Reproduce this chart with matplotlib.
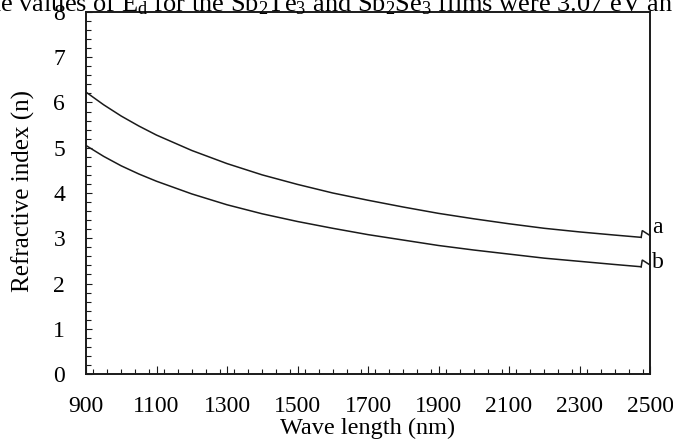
import matplotlib
matplotlib.use("Agg")
import matplotlib.pyplot as plt
from matplotlib.ticker import MultipleLocator

plt.rcParams["font.family"] = ["Liberation Serif", "DejaVu Serif"]
plt.rcParams["mathtext.fontset"] = "custom"
plt.rcParams["mathtext.rm"] = "Liberation Serif"
plt.rcParams["mathtext.it"] = "Liberation Serif:italic"

# Wavelength (nm) and refractive index of the two films
wavelength = [900, 950, 1000, 1050, 1100, 1200, 1300, 1400, 1500, 1600,
              1700, 1800, 1900, 2000, 2100, 2200, 2300, 2400, 2475]
n_a = [6.23, 5.95, 5.70, 5.48, 5.28, 4.94, 4.65, 4.40, 4.19, 4.00,
       3.84, 3.69, 3.55, 3.43, 3.32, 3.22, 3.14, 3.07, 3.02]
n_b = [5.05, 4.81, 4.60, 4.42, 4.26, 3.98, 3.74, 3.54, 3.37, 3.22,
       3.08, 2.96, 2.84, 2.74, 2.65, 2.56, 2.49, 2.42, 2.37]
curve_labels = ["a", "b"]

x_ticks = [900, 1100, 1300, 1500, 1700, 1900, 2100, 2300, 2500]
y_ticks = [0, 1, 2, 3, 4, 5, 6, 7, 8]

W, H = 673, 445
fig = plt.figure(figsize=(W / 100, H / 100), dpi=100)
ax = fig.add_axes([86 / W, 1 - 374 / H, (650 - 86) / W, (374 - 12) / H])

line_kw = dict(color="#1a1a1a", lw=1.1, solid_joinstyle="miter")
for n, lab, dy in zip([n_a, n_b], curve_labels, [0.21, 0.10]):
    ax.plot(wavelength, n, **line_kw)
    # small hooked leader from the end of the curve to the right axis
    end_x, end_y = wavelength[-1], n[-1]
    ax.plot([end_x, end_x + 3, x_ticks[-1]],
            [end_y, end_y + 0.15, end_y + 0.04], clip_on=False, **line_kw)
    ax.annotate(lab, xy=(x_ticks[-1], end_y + dy), xytext=(1.5, 0),
                textcoords="offset points", ha="left", va="center",
                fontsize=17, annotation_clip=False)

ax.set_xlim(x_ticks[0], x_ticks[-1])
ax.set_ylim(y_ticks[0], y_ticks[-1])
ax.set_xticks(x_ticks)
ax.set_yticks(y_ticks)
ax.xaxis.set_minor_locator(MultipleLocator(40))
ax.yaxis.set_minor_locator(MultipleLocator(0.2))

ax.tick_params(axis="both", which="both", direction="in", top=False,
               right=False, color="#1a1a1a", width=0.8, labelsize=17)
ax.tick_params(axis="x", which="major", length=5.5, pad=16)
ax.tick_params(axis="x", which="minor", length=3.8)
ax.tick_params(axis="y", which="major", length=4.5, pad=15)
ax.tick_params(axis="y", which="minor", length=3.5)
for side in ["left", "right", "top", "bottom"]:
    ax.spines[side].set_linewidth(1.4)
    ax.spines[side].set_color("#1a1a1a")

fig.text(368 / W, 1 - 428 / H, "Wave length (nm)", ha="center",
         va="center", fontsize=17.5)
fig.text(23 / W, 1 - 191 / H, "Refractive index (n)", ha="center",
         va="center", rotation=90, fontsize=18)

# running text line from the surrounding page, cut by the top edge
fig.text(-29 / W, 1 - 11 / H,
         r"The values of $\mathrm{E_d}$ for the Sb$_2$Te$_3$ and "
         r"Sb$_2$Se$_3$ films were 3.07 eV and",
         ha="left", va="baseline", fontsize=19)

fig.savefig("out.png", dpi=100)
